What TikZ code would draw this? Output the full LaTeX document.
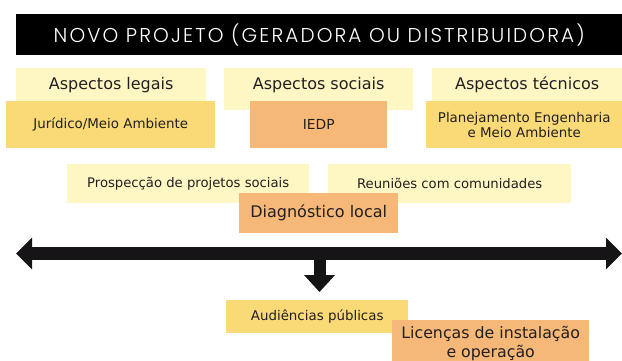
\documentclass[tikz,border=0pt]{standalone}
\usepackage{fontspec}
\setmainfont{DejaVu Sans}
\newfontfamily\titlefont{Poppins}[UprightFont=* Light,LetterSpace=10.5]
\usetikzlibrary{arrows.meta}

\definecolor{paleyellow}{HTML}{FEF7C3}
\definecolor{midyellow}{HTML}{F9DA77}
\definecolor{softorange}{HTML}{F5B878}
\definecolor{inkgrey}{HTML}{231F20}
\definecolor{inkblack}{HTML}{161416}

\begin{document}
\begin{tikzpicture}[x=1pt,y=-1pt,
  box/.style={anchor=north west,inner sep=0pt,align=center,text=inkgrey,
    font=\fontsize{16}{19}\selectfont},
  aspect/.style={box,fill=paleyellow},
  task/.style={box,fill=midyellow,font=\fontsize{13.4}{15}\selectfont},
  keytask/.style={box,fill=softorange},
  timeline/.style={draw=inkblack,line width=13pt,
    {Triangle[length=16pt,width=31pt]}-{Triangle[length=16pt,width=31pt]}},
  drop/.style={draw=inkblack,line width=12pt,-{Triangle[length=17pt,width=30pt]}}]
  \clip (0,0) rectangle (622,361);

  % title
  \node[anchor=north west,inner sep=0pt,fill=black,text=white,
    minimum width=606,minimum height=41,
    font=\titlefont\fontsize{20}{24}\selectfont] (titulo) at (16,14)
    {NOVO PROJETO (GERADORA OU DISTRIBUIDORA)};

  % aspects
  \node[aspect,minimum width=190,minimum height=33] (legais) at (16,68) {Aspectos legais};
  \node[aspect,minimum width=189,text height=21,text depth=21] (sociais) at (224,68) {Aspectos sociais};
  \node[aspect,minimum width=190,minimum height=33] (tecnicos) at (432,68) {Aspectos técnicos};
  \node[task,minimum width=209,minimum height=47] (juridico) at (6,101) {Jurídico/Meio Ambiente};
  \node[keytask,minimum width=137,minimum height=47,font=\fontsize{13.8}{15}\selectfont] (iedp) at (250,101) {IEDP};
  \node[task,minimum width=196,minimum height=47] (planejamento) at (426,101)
    {Planejamento Engenharia\\e Meio Ambiente};

  % social work
  \node[aspect,minimum width=242,minimum height=39,font=\fontsize{13.2}{15}\selectfont] (prospeccao) at (67,164)
    {Prospecção de projetos sociais};
  \node[aspect,minimum width=243,minimum height=39,font=\fontsize{13.2}{15}\selectfont] (reunioes) at (328,164)
    {Reuniões com comunidades};
  \node[keytask,minimum width=159,minimum height=40] (diagnostico) at (239,193) {Diagnóstico local};

  % timeline
  \coordinate (inicio) at (16,253.5);
  \coordinate (fim) at (622,253.5);
  \draw[timeline] (inicio) -- (fim);
  \coordinate (saida) at (319.5,253.5);
  \coordinate (saida fim) at (319.5,292);
  \draw[drop] (saida) -- (saida fim);

  % licensing
  \node[task,minimum width=182,minimum height=33] (audiencias) at (226,300) {Audiências públicas};
  \node[keytask,minimum width=197,minimum height=46,font=\fontsize{15.8}{19}\selectfont] (licencas) at (392,320)
    {Licenças de instalação\\e operação};
\end{tikzpicture}
\end{document}
